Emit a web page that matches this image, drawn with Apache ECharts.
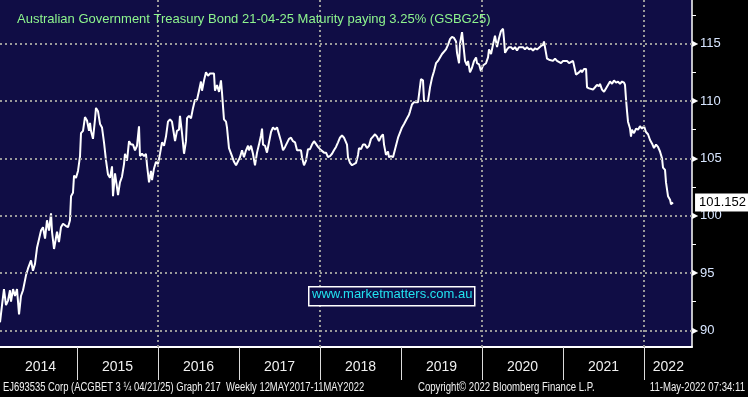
<!DOCTYPE html>
<html><head><meta charset="utf-8">
<script src="https://cdn.jsdelivr.net/npm/echarts@6/dist/echarts.min.js"></script>
<style>html,body{margin:0;padding:0;background:#000;}#c{width:748px;height:397px;}</style>
</head><body><div id="c"></div>
<script>
// decimal-year dates of weekly observations and bond prices
const dates = [
2014.049,2014.074,2014.098,2014.123,2014.148,2014.172,2014.185,2014.210,2014.234,2014.259,2014.284,2014.308,2014.333,2014.370,2014.395,2014.432,2014.456,2014.481,2014.506,2014.530,2014.555,2014.580,2014.605,2014.629,2014.654,2014.679,2014.691,2014.716,2014.740,2014.753,2014.777,2014.802,2014.827,2014.864,2014.889,2014.913,2014.926,2014.950,2014.963,2014.987,
2015.012,2015.037,2015.049,2015.074,2015.098,2015.123,2015.148,2015.160,2015.172,2015.197,2015.222,2015.234,2015.259,2015.284,2015.308,2015.333,2015.358,2015.382,2015.407,2015.432,2015.444,2015.469,2015.493,2015.506,2015.530,2015.555,2015.580,2015.592,2015.617,2015.642,2015.666,2015.691,2015.716,2015.740,2015.765,2015.777,2015.802,2015.827,2015.851,2015.864,2015.889,2015.913,2015.926,2015.950,2015.975,
2016.000,2016.024,2016.049,2016.074,2016.098,2016.123,2016.148,2016.172,2016.197,2016.210,2016.234,2016.259,2016.271,2016.296,2016.321,2016.345,2016.358,2016.382,2016.407,2016.432,2016.456,2016.481,2016.506,2016.530,2016.543,2016.568,2016.592,2016.617,2016.642,2016.666,2016.691,2016.703,2016.728,2016.753,2016.777,2016.790,2016.814,2016.839,2016.851,2016.876,2016.913,2016.938,2016.963,2016.987,
2017.012,2017.037,2017.061,2017.086,2017.111,2017.123,2017.148,2017.172,2017.197,2017.222,2017.246,2017.271,2017.284,2017.296,2017.321,2017.345,2017.370,2017.395,2017.419,2017.444,2017.469,2017.493,2017.518,2017.543,2017.568,2017.592,2017.617,2017.642,2017.666,2017.691,2017.716,2017.740,2017.765,2017.777,2017.802,2017.827,2017.851,2017.876,2017.901,2017.926,2017.950,2017.975,
2018.000,2018.024,2018.049,2018.074,2018.098,2018.123,2018.148,2018.172,2018.197,2018.222,2018.246,2018.271,2018.296,2018.333,2018.345,2018.370,2018.395,2018.419,2018.444,2018.469,2018.481,2018.506,2018.530,2018.555,2018.580,2018.605,2018.629,2018.654,2018.679,2018.703,2018.728,2018.753,2018.777,2018.790,2018.814,2018.839,2018.851,2018.876,2018.901,2018.926,2018.950,2018.963,2018.987,
2019.012,2019.037,2019.049,2019.074,2019.098,2019.111,2019.135,2019.160,2019.185,2019.210,2019.234,2019.246,2019.271,2019.284,2019.308,2019.333,2019.358,2019.382,2019.407,2019.432,2019.456,2019.481,2019.506,2019.530,2019.555,2019.580,2019.605,2019.629,2019.654,2019.679,2019.691,2019.716,2019.728,2019.753,2019.765,2019.790,2019.814,2019.827,2019.851,2019.876,2019.901,2019.926,2019.938,2019.963,2019.987,
2020.012,2020.024,2020.049,2020.074,2020.086,2020.111,2020.123,2020.135,2020.160,2020.185,2020.197,2020.210,2020.234,2020.259,2020.271,2020.284,2020.308,2020.333,2020.358,2020.382,2020.407,2020.432,2020.456,2020.481,2020.506,2020.530,2020.555,2020.580,2020.605,2020.629,2020.654,2020.679,2020.703,2020.728,2020.753,2020.765,2020.777,2020.802,2020.827,2020.851,2020.876,2020.901,2020.926,2020.950,2020.975,
2021.000,2021.024,2021.049,2021.074,2021.098,2021.123,2021.160,2021.197,2021.222,2021.234,2021.259,2021.284,2021.296,2021.321,2021.345,2021.370,2021.395,2021.419,2021.444,2021.456,2021.481,2021.506,2021.530,2021.555,2021.580,2021.605,2021.629,2021.654,2021.679,2021.703,2021.728,2021.753,2021.765,2021.777,2021.790,2021.802,2021.827,2021.839,2021.851,2021.876,2021.901,2021.926,2021.950,2021.975,
2022.000,2022.024,2022.049,2022.074,2022.098,2022.123,2022.148,2022.172,2022.197,2022.222,2022.234,2022.259,2022.271,2022.296,2022.321,2022.333,2022.358
];
const prices = [
90.7,92.2,93.6,92.2,92.6,93.5,92.5,93.6,93.0,93.6,91.4,93.0,93.5,94.8,95.4,96.1,95.2,95.8,97.2,97.1,98.7,99.0,98.0,99.6,98.7,100.2,98.6,97.1,97.0,98.6,97.7,99.0,99.3,99.1,99.0,99.6,101.7,102.0,103.5,103.3,
103.9,105.2,107.2,107.4,108.6,108.3,107.4,108.1,107.4,106.7,108.4,109.4,109.1,108.0,107.7,106.4,104.8,103.6,103.3,104.3,101.7,103.7,102.5,101.8,102.9,103.4,104.5,105.4,104.8,106.5,106.2,106.2,105.7,106.1,107.8,105.2,105.4,105.2,105.4,104.4,102.9,103.9,103.1,104.1,104.7,
104.5,105.4,106.4,106.1,106.9,108.2,108.4,108.2,107.1,106.5,107.4,107.5,108.7,107.2,105.4,106.5,108.5,108.7,108.5,109.4,110.1,110.1,110.9,111.7,110.9,111.8,112.5,112.2,112.4,112.4,112.4,110.9,111.4,110.8,111.8,110.7,108.4,108.2,107.7,105.9,105.2,104.7,104.4,104.4,
105.1,105.7,105.1,105.7,106.1,105.7,106.1,105.4,104.4,105.5,106.2,107.0,107.6,106.2,106.1,105.5,106.4,107.3,107.7,107.5,107.7,107.7,106.5,105.7,106.0,106.1,106.7,106.8,106.5,106.4,105.7,105.8,105.7,105.1,104.4,104.8,105.8,105.8,106.2,106.5,106.4,106.0,
105.8,105.7,105.5,105.5,105.1,105.2,105.4,105.7,106.0,106.4,106.8,107.0,106.8,106.2,105.1,104.6,104.4,104.4,104.6,105.3,105.9,105.8,106.2,106.2,105.9,106.1,106.7,106.9,107.1,106.9,106.5,106.9,107.1,106.2,105.3,105.6,105.1,105.2,105.1,105.8,105.9,106.8,106.9,
107.7,108.0,108.1,108.5,108.8,109.1,109.7,109.9,109.9,109.9,110.0,111.9,111.8,110.0,110.1,110.0,111.2,112.0,112.6,113.3,113.5,113.8,114.1,114.1,114.5,114.9,115.4,115.6,115.5,115.2,114.2,113.3,115.0,116.0,115.2,113.5,113.1,113.5,112.5,112.9,113.5,113.8,113.3,113.2,112.6,
113.1,113.2,113.3,113.8,114.5,114.1,114.2,114.9,115.7,114.7,115.1,115.5,116.1,116.3,115.4,114.2,114.5,114.7,114.7,114.5,114.7,114.4,114.7,114.7,114.7,114.5,114.7,114.5,114.6,114.4,114.6,114.5,114.5,114.8,114.9,115.2,114.7,113.7,113.6,113.7,113.5,113.7,113.5,113.5,113.3,
113.5,113.5,113.5,113.3,113.4,113.5,112.3,112.5,112.7,112.5,112.8,112.8,111.2,111.1,111.2,111.0,111.2,111.4,111.3,111.5,111.0,110.8,111.1,111.4,111.7,111.5,111.8,111.6,111.7,111.5,111.7,111.6,111.4,110.2,109.1,108.2,107.6,106.9,107.5,107.2,107.6,107.5,107.8,107.6,
107.8,107.3,107.1,106.6,106.3,105.9,106.2,106.0,105.6,105.0,104.2,104.0,102.9,101.7,101.4,101.0,101.152
];
const yTickValues = [90, 92.5, 95, 97.5, 100, 102.5, 105, 107.5, 110, 112.5, 115, 117.5];
const yLabelValues = [90, 95, 100, 105, 110, 115];
const yearBoundaries = [2015, 2016, 2017, 2018, 2019, 2020, 2021, 2022];
const yearLabelPositions = [2014.55, 2015.5, 2016.5, 2017.5, 2018.5, 2019.5, 2020.5, 2021.5, 2022.3];
const xGridValues = [2016, 2018, 2020, 2022];
const titleText = 'Australian Government Treasury Bond 21-04-25 Maturity paying 3.25% (GSBG25)';
const footerLeft = 'EJ693535 Corp (ACGBET 3 \u00BC 04/21/25) Graph 217  Weekly 12MAY2017-11MAY2022';
const footerMid = 'Copyright\u00A9 2022 Bloomberg Finance L.P.';
const footerRight = '11-May-2022 07:34:11';
const watermark = 'www.marketmatters.com.au';

const chart = echarts.init(document.getElementById('c'));
const gridLine = { color: '#9a9a9a', width: 2, type: [2, 3] };
const footFont = "12px 'Liberation Sans'";
chart.setOption({
  backgroundColor: '#000',
  animation: false,
  title: [
    { text: titleText, left: 12, top: 8, textStyle: { color: '#8ef58e', fontSize: 13, fontWeight: 'normal', fontFamily: 'Liberation Sans' } }
  ],
  grid: { left: 0, right: 56, top: 0, bottom: 50, show: true, backgroundColor: '#100d45', borderWidth: 0 },
  xAxis: {
    type: 'value', min: 2014.049, max: 2022.592,
    axisLine: { show: true, lineStyle: { color: '#ffffff', width: 2 } },
    axisTick: { show: true, customValues: yearBoundaries, length: 33, lineStyle: { color: '#dcdcdc', width: 1 } },
    axisLabel: { customValues: yearLabelPositions, formatter: v => String(Math.floor(v)), color: '#f0f0f0', fontSize: 14, fontFamily: 'Liberation Sans', margin: 13 },
    splitLine: { show: false }
  },
  yAxis: {
    type: 'value', position: 'right', min: 88.55, max: 118.81,
    axisLine: { show: true, lineStyle: { color: '#ffffff', width: 1.5 } },
    axisTick: { show: true, customValues: yTickValues, length: 4, inside: false, lineStyle: { color: '#ffffff' } },
    axisLabel: {
      customValues: yLabelValues, margin: 0,
      formatter: v => '{t|\u25B6}{v|' + v + '}',
      rich: {
        t: { fontSize: 8, color: '#ffffff', padding: [0, 2, 0, 0] },
        v: { fontSize: 13, color: '#d8e6ff', fontFamily: 'Liberation Sans' }
      }
    },
    splitLine: { show: false }
  },
  graphic: [
    { type: 'rect', left: 308, top: 286, shape: { width: 166, height: 19 }, style: { fill: '#100d45', stroke: '#ffffff', lineWidth: 1.5 }, z: 50 },
    { type: 'text', left: 312, top: 288, style: { text: watermark, fill: '#22e2f0', font: "13px 'Liberation Sans'" }, z: 51 },
    { type: 'text', x: 3, y: 382, scaleX: 0.785, style: { text: footerLeft, fill: '#f2f2f2', font: footFont }, z: 51 },
    { type: 'text', x: 418, y: 382, scaleX: 0.8, style: { text: footerMid, fill: '#f2f2f2', font: footFont }, z: 51 },
    { type: 'text', x: 745, y: 382, scaleX: 0.8, style: { text: footerRight, fill: '#f2f2f2', font: footFont, align: 'right' }, z: 51 }
  ],
  series: [
    {
      type: 'line', data: [], z: 1, silent: true,
      markLine: {
        silent: true, symbol: ['none', 'none'], label: { show: false },
        lineStyle: gridLine, animation: false,
        data: yLabelValues.map(v => ({ yAxis: v })).concat(xGridValues.map(v => ({ xAxis: v })))
      }
    },
    {
      type: 'line', z: 3,
      data: dates.map((d, i) => [d, prices[i]]),
      showSymbol: false, symbol: 'none',
      lineStyle: { color: '#ffffff', width: 2 },
      endLabel: {
        show: true, distance: 22, formatter: () => prices[prices.length - 1].toFixed(3),
        backgroundColor: '#ffffff', color: '#000000', fontSize: 13, fontFamily: 'Liberation Sans',
        padding: [3, 3, 2, 4]
      }
    }
  ]
});
</script></body></html>
